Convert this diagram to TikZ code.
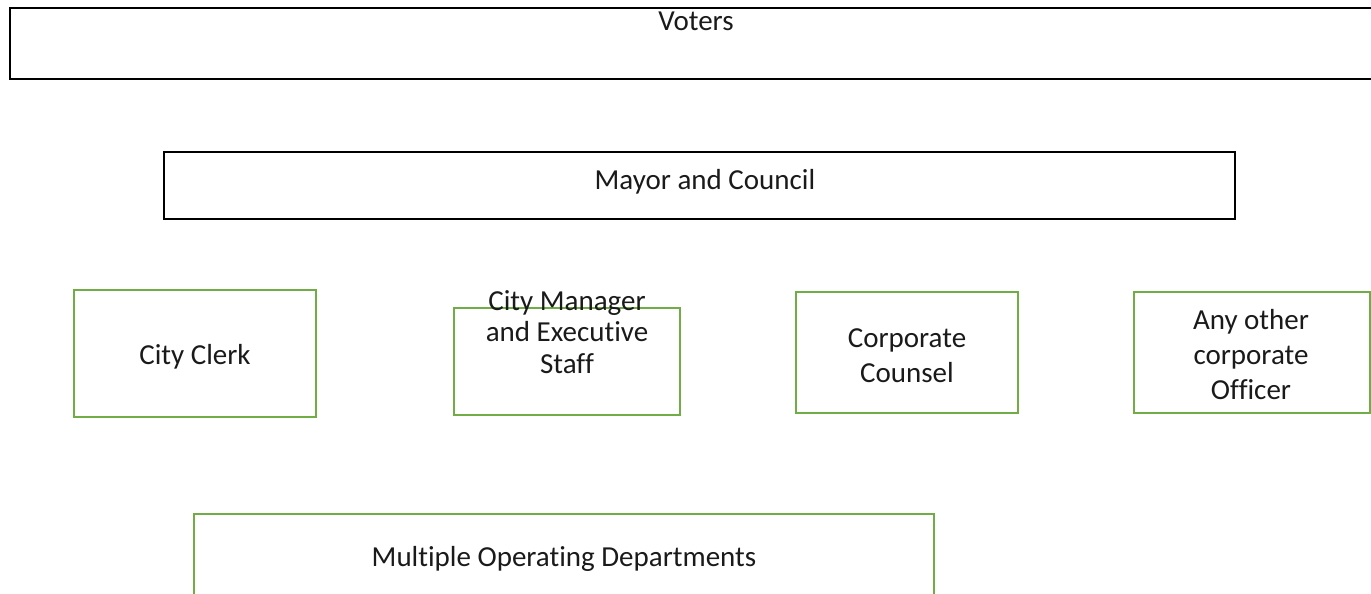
\documentclass[tikz,border=0pt]{standalone}
\usepackage{fontspec}
\setmainfont{Carlito}[Ligatures={NoCommon}]
\definecolor{officegreen}{HTML}{70AD47}
\definecolor{ink}{HTML}{1A1A1A}
\begin{document}
\begin{tikzpicture}[x=1pt,y=-1pt,
  blackbox/.style={draw=black, line width=2pt, inner sep=0pt},
  greenbox/.style={draw=officegreen, line width=2pt, inner sep=0pt},
  lbl/.style={font=\fontsize{29}{35}\selectfont, text=ink, align=center, inner sep=0pt},
  tightlbl/.style={lbl, font=\fontsize{29}{31.5}\selectfont}]
\useasboundingbox (0,0) rectangle (1371,594);
\clip (0,0) rectangle (1371,594);

% governing bodies
\node[blackbox, minimum width=1380pt, minimum height=71pt] (voters) at (700,43.5) {};
\node[lbl] (votersT) at (696,21) {Voters};
\node[blackbox, minimum width=1071pt, minimum height=67pt] (mayor) at (699.5,185.5) {};
\node[lbl] (mayorT) at (705,182) {Mayor and Council};

% officers
\node[greenbox, minimum width=242pt, minimum height=127pt] (clerk) at (195,353.5) {};
\node[lbl] (clerkT) at (195,357) {City Clerk};
\node[greenbox, minimum width=226pt, minimum height=107pt] (manager) at (567,361.5) {};
\node[tightlbl] (managerT) at (567,332) {City Manager\\and Executive\\Staff};
\node[greenbox, minimum width=222pt, minimum height=121pt] (counsel) at (907,352.5) {};
\node[lbl] (counselT) at (907,356) {Corporate\\Counsel};
\node[greenbox, minimum width=236pt, minimum height=121pt] (other) at (1252,352.5) {};
\node[lbl] (otherT) at (1251,355) {Any other\\corporate\\Officer};

% departments
\node[greenbox, minimum width=740pt, minimum height=96pt] (depts) at (564,562) {};
\node[lbl] (deptsT) at (564,559) {Multiple Operating Departments};
\end{tikzpicture}
\end{document}
